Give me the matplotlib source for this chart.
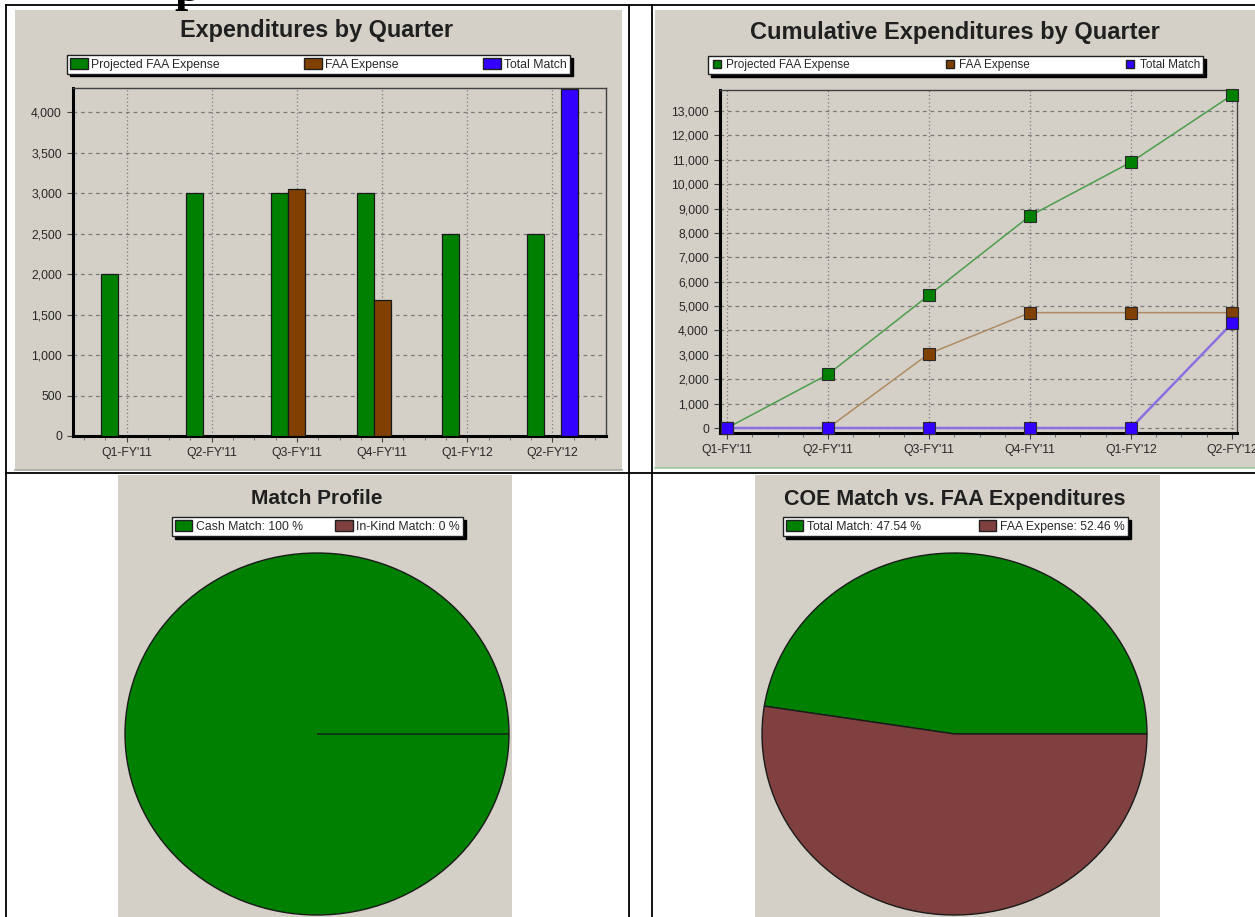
import matplotlib
matplotlib.use("Agg")
import matplotlib.pyplot as plt
import numpy as np
from matplotlib.patches import Rectangle, Patch
from matplotlib.lines import Line2D
from matplotlib.ticker import FuncFormatter, MultipleLocator

plt.rcParams['font.family'] = ['Liberation Sans', 'DejaVu Sans']

W, H = 1255, 917

# ---- data ----
quarters = ["Q1-FY'11", "Q2-FY'11", "Q3-FY'11", "Q4-FY'11", "Q1-FY'12", "Q2-FY'12"]
series_names = ["Projected FAA Expense", "FAA Expense", "Total Match"]

projected_q = [2000, 3000, 3000, 3000, 2500, 2500]
faa_q = [0, 0, 3050, 1680, 0, 0]
match_q = [0, 0, 0, 0, 0, 4290]

projected_cum = [0, 2200, 5450, 8700, 10900, 13650]
faa_cum = [0, 0, 3050, 4730, 4730, 4730]
match_cum = [0, 0, 0, 0, 0, 4290]

match_labels = ["Cash Match: 100 %", "In-Kind Match: 0 %"]
match_pct = [100, 0]

coe_labels = ["Total Match: 47.54 %", "FAA Expense: 52.46 %"]
coe_pct = [47.54, 52.46]

# ---- styles ----
GRAY = '#d4d0c8'
GREEN = '#008000'
BROWN = '#804000'
BLUE = '#3300ff'
MAROON = '#804040'
TXT = '#282828'


def rect(x0, y0, x1, y1):
    # pixel box (top-left origin) -> figure fraction
    return [x0 / W, 1 - y1 / H, (x1 - x0) / W, (y1 - y0) / H]


fig = plt.figure(figsize=(W / 100, H / 100), dpi=100, facecolor='white')

# gray chart panels
for box in [(15, 10, 622, 470), (655, 10, 1255, 468), (118, 475, 512, 917), (755, 475, 1160, 917)]:
    x0, y0, w, h = rect(*box)
    fig.add_artist(Rectangle((x0, y0), w, h, transform=fig.transFigure,
                             facecolor=GRAY, edgecolor='none', zorder=0))
# faint 3d edges under the top panels
fig.add_artist(Line2D([15 / W, 622 / W], [1 - 470 / H] * 2, transform=fig.transFigure, color='#a8a6a0', lw=1.2))
fig.add_artist(Line2D([655 / W, 1255 / W], [1 - 468 / H] * 2, transform=fig.transFigure, color='#9cc89c', lw=1.2))


# table lines of the page
def hline(y, x0, x1):
    fig.add_artist(Line2D([x0 / W, x1 / W], [1 - y / H] * 2, transform=fig.transFigure, color='black', lw=1.3))


def vline(x, y0, y1):
    fig.add_artist(Line2D([x / W] * 2, [1 - y0 / H, 1 - y1 / H], transform=fig.transFigure, color='black', lw=1.3))


hline(5, 6, W)
hline(473, 6, W)
vline(6, 5, H)
vline(629, 5, H)
vline(652, 5, H)

# cut-off heading above the table
fig.text(174 / W, 1 - 1 / H, 'p', fontsize=34, fontweight='bold', family='Liberation Serif',
         va='baseline', ha='left', color='black')


def style_axes(ax):
    ax.set_facecolor(GRAY)
    for s in ['left', 'bottom']:
        ax.spines[s].set_linewidth(2.2)
        ax.spines[s].set_color('black')
    for s in ['top', 'right']:
        ax.spines[s].set_linewidth(1)
        ax.spines[s].set_color('#404040')
    ax.xaxis.grid(True, color='#7a7a7a', linestyle=(0, (1, 2)), lw=0.9)
    ax.yaxis.grid(True, color='#7a7a7a', linestyle=(0, (3, 3)), lw=0.9)
    ax.set_axisbelow(True)
    ax.yaxis.set_major_formatter(FuncFormatter(lambda v, p: f"{int(v):,}"))
    ax.xaxis.set_minor_locator(MultipleLocator(0.25))
    ax.tick_params(axis='both', which='major', length=4, width=0.8, colors='#404040',
                   labelcolor=TXT, labelsize=8.8, pad=4)
    ax.tick_params(axis='x', which='minor', length=3, width=0.6, colors='#606060')


def box_legend(handles, labels, box, fontsize, hl, hh):
    leg = fig.legend(handles, labels, loc='center', bbox_to_anchor=rect(*box),
                     bbox_transform=fig.transFigure, mode='expand', ncol=len(labels),
                     frameon=True, fancybox=False, shadow={'color': 'black', 'alpha': 1},
                     fontsize=fontsize, handlelength=hl, handleheight=hh, handletextpad=0.3,
                     borderpad=0.25, borderaxespad=0, columnspacing=0.5, framealpha=1)
    leg.get_frame().set_edgecolor('#202020')
    leg.get_frame().set_linewidth(1)
    for t in leg.get_texts():
        t.set_color(TXT)
    return leg


x = np.arange(len(quarters))

# ==================== Expenditures by Quarter ====================
fig.text(316 / W, 1 - 30 / H, "Expenditures by Quarter", ha='center', va='center',
         fontsize=16.8, fontweight='bold', color='#202020')

ax1 = fig.add_axes(rect(73, 88, 606, 436))
style_axes(ax1)
w = 0.2
bar_colors = [GREEN, BROWN, BLUE]
for i, (vals, col) in enumerate(zip([projected_q, faa_q, match_q], bar_colors)):
    ax1.bar(x + (i - 1) * w, vals, w, color=col, edgecolor='#1a1a1a', lw=0.9, zorder=3)
ax1.set_xlim(-0.63, 5.63)
ax1.set_ylim(0, 4300)
ax1.set_xticks(x)
ax1.set_xticklabels(quarters)
ax1.yaxis.set_major_locator(MultipleLocator(500))

box_legend([Patch(facecolor=c, edgecolor='#202020') for c in bar_colors], series_names,
           (67, 55, 570, 74), 8.8, 1.45, 0.9)

# ==================== Cumulative Expenditures ====================
fig.text(955 / W, 1 - 33 / H, "Cumulative Expenditures by Quarter", ha='center', va='center',
         fontsize=17, fontweight='bold', color='#202020')

ax2 = fig.add_axes(rect(720, 90, 1237, 433))
style_axes(ax2)
line_colors = ['#4c9e4c', '#b08a60', '#8a70e0']
for vals, lc, mc, lw in zip([projected_cum, faa_cum, match_cum], line_colors, bar_colors, [1.1, 1.1, 1.8]):
    ax2.plot(x, vals, color=lc, lw=lw, marker='s', markersize=8, markerfacecolor=mc,
             markeredgecolor='#2a2a2a', markeredgewidth=0.8, zorder=3, clip_on=False)
ax2.set_xlim(-0.07, 5.05)
ax2.set_ylim(-205, 13860)
ax2.set_xticks(x)
ax2.set_xticklabels(quarters)
ax2.yaxis.set_major_locator(MultipleLocator(1000))

box_legend([Line2D([], [], ls='none', marker='s', markersize=6, markerfacecolor=c,
                   markeredgecolor='#202020') for c in bar_colors], series_names,
           (708, 56, 1203, 74), 8.5, 1.0, 0.8)

# ==================== Match Profile ====================
fig.text(317 / W, 1 - 499 / H, "Match Profile", ha='center', va='center',
         fontsize=15, fontweight='bold', color='#202020')
ax3 = fig.add_axes(rect(125, 553, 509, 915))
wedges, _ = ax3.pie(match_pct, colors=[GREEN, MAROON], startangle=0, counterclock=True,
                    wedgeprops=dict(edgecolor='#1a1a1a', lw=1))
ax3.set_aspect('auto')
ax3.set_xlim(-1, 1)
ax3.set_ylim(-1, 1)
for wd in wedges:
    wd.set_clip_on(False)
box_legend([Patch(facecolor=c, edgecolor='#202020') for c in [GREEN, MAROON]], match_labels,
           (172, 517, 463, 536), 8.8, 1.4, 1.0)

# ==================== COE Match vs. FAA ====================
fig.text(955 / W, 1 - 499 / H, "COE Match vs. FAA Expenditures", ha='center', va='center',
         fontsize=15.5, fontweight='bold', color='#202020')
ax4 = fig.add_axes(rect(762, 553, 1147, 915))
wedges, _ = ax4.pie(coe_pct, colors=[GREEN, MAROON], startangle=0, counterclock=True,
                    wedgeprops=dict(edgecolor='#1a1a1a', lw=1))
ax4.set_aspect('auto')
ax4.set_xlim(-1, 1)
ax4.set_ylim(-1, 1)
for wd in wedges:
    wd.set_clip_on(False)
box_legend([Patch(facecolor=c, edgecolor='#202020') for c in [GREEN, MAROON]], coe_labels,
           (783, 517, 1128, 536), 8.8, 1.4, 1.0)

fig.savefig("out.png", dpi=100, facecolor='white')
